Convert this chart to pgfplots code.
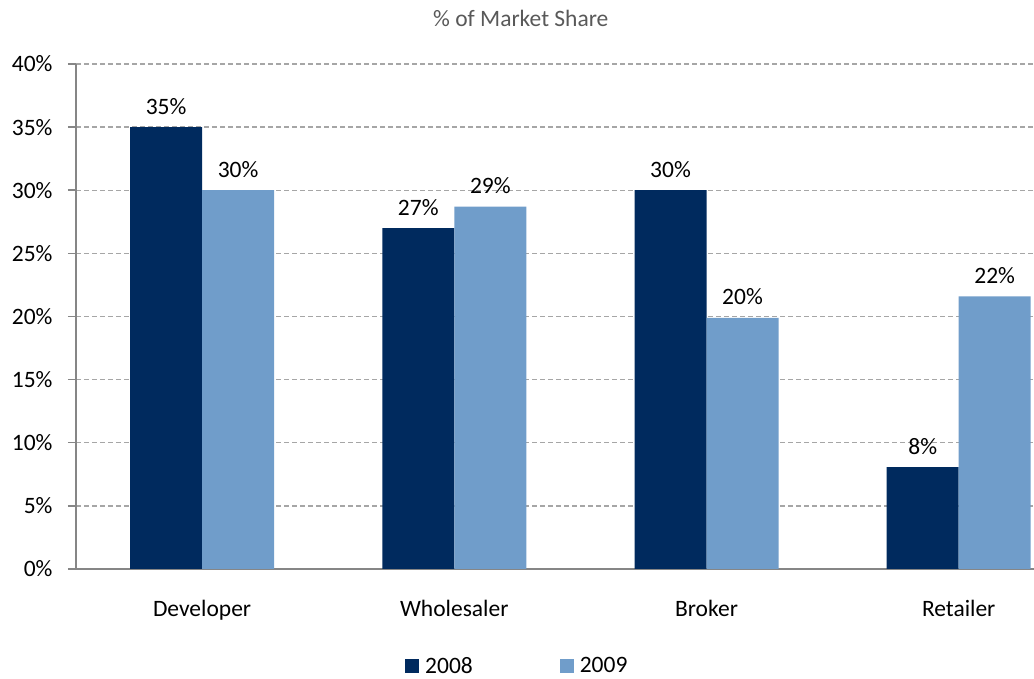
\documentclass[border=0pt]{standalone}
\usepackage{fontspec}
\setmainfont{Carlito}
\usepackage{pgfplots}
\pgfplotsset{compat=1.18}
\definecolor{dk}{HTML}{002A5E}
\definecolor{lt}{HTML}{709DCA}
\definecolor{axc}{HTML}{868686}
\definecolor{grc}{HTML}{A6A6A6}
\definecolor{ttl}{HTML}{595959}
\newcommand{\F}{\fontsize{23.5}{28}\selectfont}
\begin{document}
\begin{tikzpicture}[x=1pt,y=1pt]
\begin{axis}[
  scale only axis, width=958pt, height=505pt,
  xmin=-0.5, xmax=3.2985, ymin=0, ymax=40,
  axis lines=left, axis line style={draw=axc, line width=1.5pt, -},
  xtick={0,1,2,3}, xticklabels={Developer,Wholesaler,Broker,Retailer},
  x tick style={draw=none},
  extra x ticks={-0.5,0.5,1.5,2.5}, extra x tick labels={},
  extra x tick style={major tick length=8pt, tick style={draw=axc, line width=1.5pt}, tick align=outside},
  ytick={0,5,...,40}, yticklabel={\pgfmathprintnumber{\tick}\%},
  y tick style={draw=axc, line width=1.5pt}, major tick length=8pt, tick align=outside,
  ymajorgrids, grid style={draw=grc, line width=1.3pt, dash pattern=on 5pt off 3pt},
  /pgf/number format/assume math mode=true,
  tick label style={font=\F, text=black},
  xticklabel style={anchor=base, yshift=-40pt},
  yticklabel style={anchor=east, xshift=-12pt},
  ybar=0pt, bar width=0.2855,
  nodes near coords={\pgfmathprintnumber[fixed,precision=0]{\pgfplotspointmeta}\%},
  every node near coord/.append style={font=\F, text=black, anchor=base, yshift=13pt, inner sep=0pt},
  legend columns=2,
  legend image code/.code={\fill[#1,draw=none] (0pt,-7pt) rectangle (14pt,7pt); \path (18pt,0pt);},
  legend style={draw=none, fill=none, font=\F, at={(rel axis cs:0.3434,-0.192)}, anchor=west, inner sep=0pt,
    /tikz/every even column/.append style={column sep=85pt}},
  clip=false,
]
\addplot[fill=dk, draw=none] coordinates {(0,35) (1,27) (2,30) (3,8.06)};
\addlegendentry{2008}
\addplot[fill=lt, draw=none] coordinates {(0,30) (1,28.7) (2,19.9) (3,21.6)};
\addlegendentry{2009}
\node[font=\F, text=ttl, anchor=base] at (rel axis cs:0.4643,1.0733) {\% of Market Share};
\end{axis}
\pgfresetboundingbox
\path[use as bounding box] (-76pt,-110pt) rectangle (958pt,569pt);
\end{tikzpicture}
\end{document}
